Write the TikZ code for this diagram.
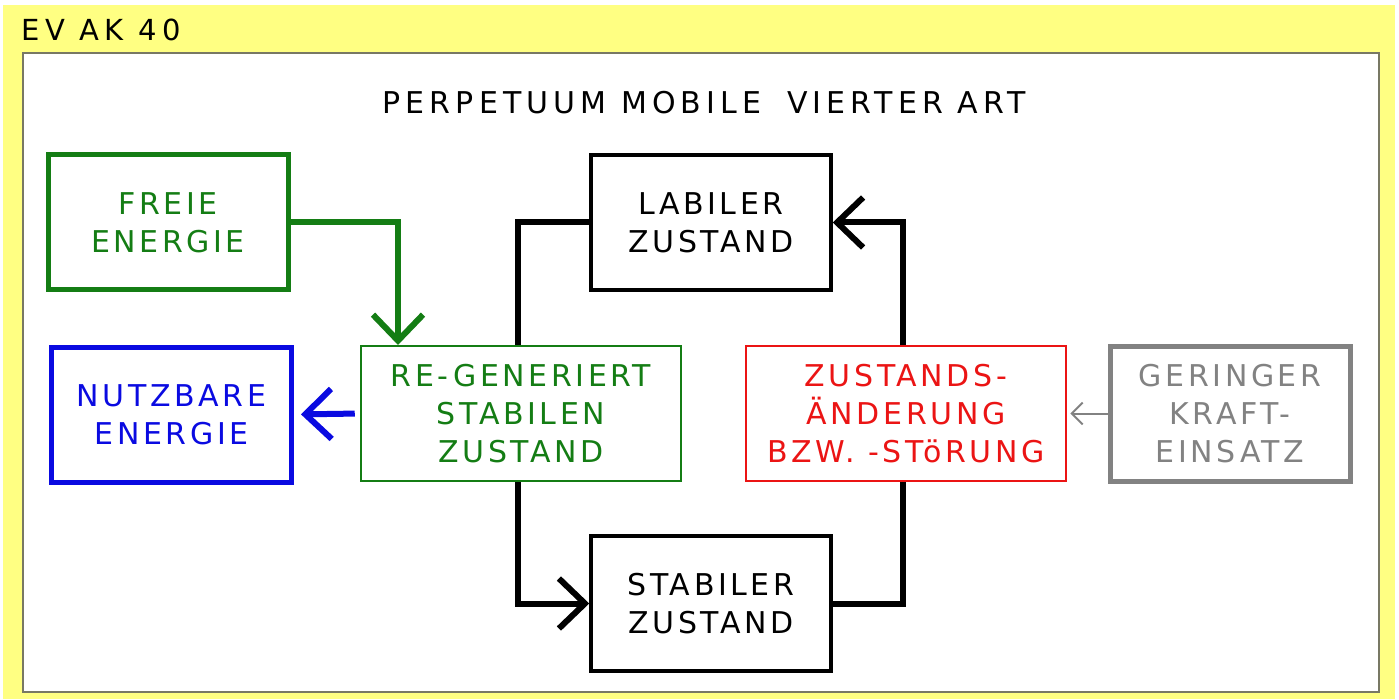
\documentclass[tikz,border=0pt]{standalone}
\usepackage{fontspec}
\setmainfont[LetterSpace=12]{DejaVu Sans}
\usetikzlibrary{arrows.meta}

\definecolor{pageyellow}{RGB}{255,255,130}
\definecolor{panelrim}{RGB}{120,120,100}
\definecolor{freegreen}{RGB}{20,125,20}
\definecolor{usedblue}{RGB}{10,10,225}
\definecolor{shiftred}{RGB}{235,20,20}
\definecolor{forcegray}{RGB}{130,130,130}

\tikzset{
  x=1pt, y=-1pt,
  label text/.style={font=\fontsize{30}{38}\selectfont, align=center},
  box/.style={draw, label text, rectangle, inner sep=0pt},
  wide box/.style={box, minimum width=320pt, minimum height=135pt},
  small box/.style={box, minimum width=240pt, minimum height=135pt},
  chevron/.style={-{Straight Barb[length=26pt, width=50pt]}},
  flow/.style={line width=6pt, chevron},
}

\begin{document}
\begin{tikzpicture}
  % page and panel
  \useasboundingbox (0,0) rectangle (1399,700);
  \fill[white] (0,0) rectangle (1399,700);
  \fill[pageyellow] (3,5) rectangle (1395,699);
  \draw[panelrim, line width=2.5pt, fill=white] (23,53) rectangle (1379,692);

  \node[anchor=west, inner sep=0pt, font=\fontsize{29}{34}\selectfont\addfontfeature{LetterSpace=19}] (tag) at (21,30) {EV AK 40};
  \node[font=\fontsize{30}{34}\selectfont\addfontfeature{LetterSpace=17}] (title) at (704,103)
    {PERPETUUM MOBILE\hspace{26pt}VIERTER ART};

  % boxes
  \node[small box, draw=freegreen, text=freegreen, line width=5pt] (free) at (168,222.5) {FREIE\\ENERGIE};
  \node[small box, draw=usedblue, text=usedblue, line width=5pt] (used) at (171.5,414.5) {NUTZBARE\\ENERGIE};
  \node[wide box, draw=freegreen, text=freegreen, line width=2.5pt] (regen) at (521,413.5) {RE-GENERIERT\\STABILEN\\ZUSTAND};
  \node[small box, line width=3.5pt] (labile) at (711,222.5) {LABILER\\ZUSTAND};
  \node[small box, line width=3.5pt] (stable) at (711,603.5) {STABILER\\ZUSTAND};
  \node[wide box, draw=shiftred, text=shiftred, line width=2.5pt] (shift) at (906,413.5) {ZUSTANDS-\\ÄNDERUNG\\BZW. -STöRUNG};
  \node[small box, draw=forcegray, text=forcegray, line width=5pt] (force) at (1230,413.5) {GERINGER\\KRAFT-\\EINSATZ};

  % vertical lines of the loop
  \coordinate (loopleft) at (518,0);
  \coordinate (loopright) at (903,0);
  \coordinate (feed) at (398,345);

  % connectors
  \draw[freegreen, flow] (free.east) -| (feed);
  \draw[usedblue, flow, shorten <=5pt, shorten >=7pt] (regen.west) -- (used.east);
  \draw[line width=6pt] (regen.north -| loopleft) |- (labile.west);
  \draw[flow] (regen.south -| loopleft) |- (stable.west);
  \draw[line width=6pt] (stable.east) -| (shift.south -| loopright);
  \draw[flow] (shift.north -| loopright) |- (labile.east);
  \draw[forcegray, line width=2pt, -{Straight Barb[length=11pt, width=22pt]}, shorten >=3pt] (force.west) -- (shift.east);
\end{tikzpicture}
\end{document}
